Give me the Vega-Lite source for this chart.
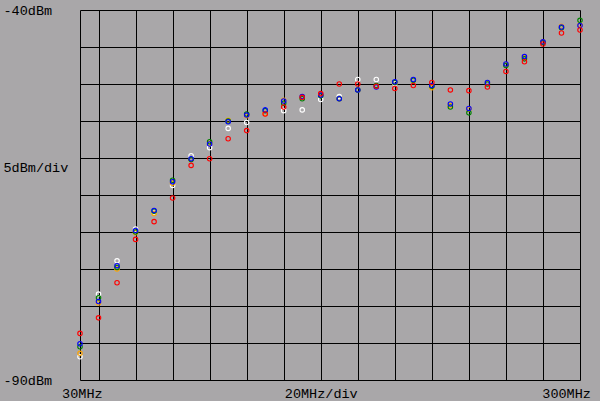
{
  "$schema": "https://vega.github.io/schema/vega-lite/v6.json",
  "width": 500,
  "height": 370,
  "autosize": {"type": "none"},
  "padding": {"left": 80, "top": 10, "right": 20, "bottom": 21},
  "background": "#a9a7a9",
  "config": {"view": {"stroke": null}, "font": "Liberation Mono"},
  "data": {"values": [
    {"f":30,"s":"W","v":-86.85},{"f":40,"s":"W","v":-78.4},{"f":50,"s":"W","v":-73.9},{"f":60,"s":"W","v":-69.6},{"f":70,"s":"W","v":-67.3},{"f":80,"s":"W","v":-63.7},{"f":90,"s":"W","v":-59.7},{"f":100,"s":"W","v":-58.6},{"f":110,"s":"W","v":-56.0},{"f":120,"s":"W","v":-55.2},{"f":130,"s":"W","v":-53.5},{"f":140,"s":"W","v":-53.6},{"f":150,"s":"W","v":-53.5},{"f":160,"s":"W","v":-52.1},{"f":170,"s":"W","v":-51.7},{"f":180,"s":"W","v":-49.4},{"f":190,"s":"W","v":-49.4},{"f":200,"s":"W","v":-49.9},
    {"f":30,"s":"O","v":-86.4},{"f":40,"s":"O","v":-79.6},{"f":50,"s":"O","v":-75.0},{"f":60,"s":"O","v":-70.1},{"f":70,"s":"O","v":-67.5},{"f":80,"s":"O","v":-63.4},{"f":90,"s":"O","v":-60.2},{"f":100,"s":"O","v":-58.0},{"f":110,"s":"O","v":-54.9},{"f":120,"s":"O","v":-54.3},{"f":130,"s":"O","v":-54.0},{"f":140,"s":"O","v":-52.2},{"f":150,"s":"O","v":-51.8},{"f":160,"s":"O","v":-51.5},{"f":170,"s":"O","v":-52.0},{"f":180,"s":"O","v":-50.8},{"f":190,"s":"O","v":-50.3},{"f":200,"s":"O","v":-49.8},{"f":210,"s":"O","v":-49.5},{"f":220,"s":"O","v":-50.5},{"f":230,"s":"O","v":-52.9},{"f":240,"s":"O","v":-53.4},{"f":250,"s":"O","v":-49.9},{"f":260,"s":"O","v":-47.4},{"f":270,"s":"O","v":-46.4},{"f":280,"s":"O","v":-44.3},{"f":290,"s":"O","v":-42.2},{"f":300,"s":"O","v":-42.0},
    {"f":30,"s":"G","v":-85.5},{"f":40,"s":"G","v":-78.9},{"f":50,"s":"G","v":-74.8},{"f":60,"s":"G","v":-70.0},{"f":70,"s":"G","v":-67.2},{"f":80,"s":"G","v":-63.0},{"f":90,"s":"G","v":-60.2},{"f":100,"s":"G","v":-57.8},{"f":110,"s":"G","v":-55.0},{"f":120,"s":"G","v":-54.05},{"f":130,"s":"G","v":-53.6},{"f":140,"s":"G","v":-52.6},{"f":150,"s":"G","v":-52.0},{"f":160,"s":"G","v":-51.6},{"f":170,"s":"G","v":-52.0},{"f":180,"s":"G","v":-50.8},{"f":190,"s":"G","v":-50.2},{"f":200,"s":"G","v":-49.8},{"f":210,"s":"G","v":-49.5},{"f":220,"s":"G","v":-50.3},{"f":230,"s":"G","v":-53.1},{"f":240,"s":"G","v":-53.9},{"f":250,"s":"G","v":-50.0},{"f":260,"s":"G","v":-47.5},{"f":270,"s":"G","v":-46.6},{"f":280,"s":"G","v":-44.4},{"f":290,"s":"G","v":-42.4},{"f":300,"s":"G","v":-41.4},
    {"f":30,"s":"B","v":-85.1},{"f":40,"s":"B","v":-79.4},{"f":50,"s":"B","v":-74.55},{"f":60,"s":"B","v":-69.8},{"f":70,"s":"B","v":-67.1},{"f":80,"s":"B","v":-63.2},{"f":90,"s":"B","v":-60.1},{"f":100,"s":"B","v":-58.1},{"f":110,"s":"B","v":-55.1},{"f":120,"s":"B","v":-54.2},{"f":130,"s":"B","v":-53.5},{"f":140,"s":"B","v":-52.3},{"f":150,"s":"B","v":-51.7},{"f":160,"s":"B","v":-51.5},{"f":170,"s":"B","v":-52.0},{"f":180,"s":"B","v":-50.8},{"f":190,"s":"B","v":-50.4},{"f":200,"s":"B","v":-49.7},{"f":210,"s":"B","v":-49.4},{"f":220,"s":"B","v":-50.2},{"f":230,"s":"B","v":-52.7},{"f":240,"s":"B","v":-53.3},{"f":250,"s":"B","v":-49.8},{"f":260,"s":"B","v":-47.3},{"f":270,"s":"B","v":-46.3},{"f":280,"s":"B","v":-44.3},{"f":290,"s":"B","v":-42.3},{"f":300,"s":"B","v":-42.1},
    {"f":30,"s":"R","v":-83.7},{"f":40,"s":"R","v":-81.6},{"f":50,"s":"R","v":-76.85},{"f":60,"s":"R","v":-71.0},{"f":70,"s":"R","v":-68.6},{"f":80,"s":"R","v":-65.4},{"f":90,"s":"R","v":-61.0},{"f":100,"s":"R","v":-60.1},{"f":110,"s":"R","v":-57.4},{"f":120,"s":"R","v":-56.3},{"f":130,"s":"R","v":-54.05},{"f":140,"s":"R","v":-53.1},{"f":150,"s":"R","v":-51.8},{"f":160,"s":"R","v":-51.3},{"f":170,"s":"R","v":-50.0},{"f":180,"s":"R","v":-50.0},{"f":190,"s":"R","v":-50.3},{"f":200,"s":"R","v":-50.6},{"f":210,"s":"R","v":-50.2},{"f":220,"s":"R","v":-49.8},{"f":230,"s":"R","v":-50.8},{"f":240,"s":"R","v":-50.9},{"f":250,"s":"R","v":-50.4},{"f":260,"s":"R","v":-48.3},{"f":270,"s":"R","v":-47.0},{"f":280,"s":"R","v":-44.6},{"f":290,"s":"R","v":-43.1},{"f":300,"s":"R","v":-42.7}
  ]},
  "mark": {"type": "point", "filled": false, "size": 20, "strokeWidth": 1.1, "opacity": 1},
  "encoding": {
    "x": {
      "field": "f", "type": "quantitative",
      "scale": {"domain": [30, 300], "nice": false, "zero": false},
      "axis": {
        "values": [30, 31, 40, 60, 80, 100, 120, 140, 160, 180, 200, 220, 240, 260, 280, 292.5, 300],
        "grid": true, "gridColor": "#000000", "gridWidth": 1,
        "gridOpacity": {"condition": {"test": "datum.value % 10 == 0", "value": 1}, "value": 0},
        "ticks": false, "tickSize": 0, "domain": false,
        "labelExpr": "datum.value == 31 ? '30MHz' : datum.value == 160 ? '20MHz/div' : datum.value == 292.5 ? '300MHz' : ''",
        "labelFont": "Liberation Mono", "labelFontSize": 13.5, "labelColor": "#000000",
        "labelPadding": 6, "labelOverlap": false, "labelBound": false, "labelFlush": false,
        "title": null
      }
    },
    "y": {
      "field": "v", "type": "quantitative",
      "scale": {"domain": [-90, -40], "nice": false, "zero": false},
      "axis": {
        "values": [-40, -45, -50, -55, -60, -61.35, -65, -70, -75, -80, -85, -90],
        "grid": true, "gridColor": "#000000", "gridWidth": 1,
        "gridOpacity": {"condition": {"test": "datum.value % 5 == 0", "value": 1}, "value": 0},
        "ticks": false, "tickSize": 0, "domain": false,
        "labelExpr": "datum.value == -40 ? '-40dBm' : datum.value == -61.35 ? '5dBm/div' : datum.value == -90 ? '-90dBm' : ''",
        "labelFont": "Liberation Mono", "labelFontSize": 13.5, "labelColor": "#000000",
        "labelAlign": "left", "labelBaseline": "middle", "labelPadding": 77,
        "labelOverlap": false, "labelBound": false, "labelFlush": false,
        "title": null
      }
    },
    "color": {
      "field": "s", "type": "nominal",
      "scale": {"domain": ["W", "O", "G", "B", "R"], "range": ["#ffffff", "#ffa500", "#008000", "#0000ff", "#ff0000"]},
      "legend": null
    }
  }
}
